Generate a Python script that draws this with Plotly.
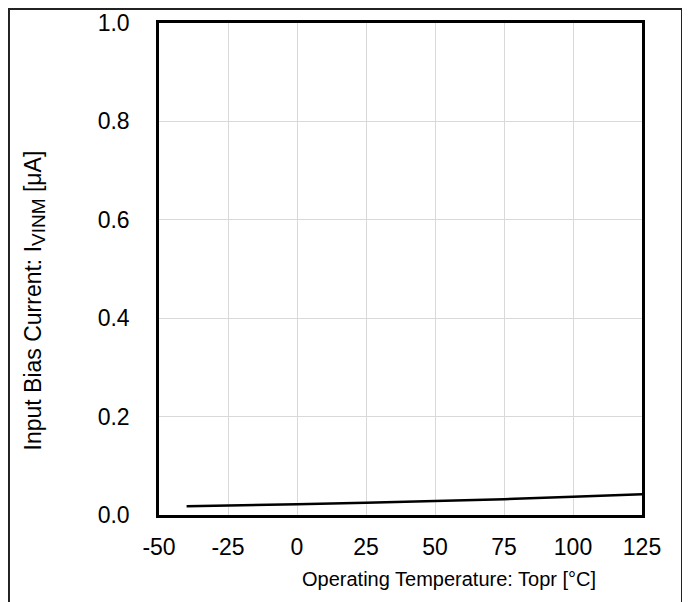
import plotly.graph_objects as go

temps = [-40, -25, 0, 25, 50, 75, 100, 125]
ibias = [0.018, 0.019, 0.022, 0.025, 0.028, 0.032, 0.037, 0.042]

x_ticks = [-50, -25, 0, 25, 50, 75, 100, 125]
x_ticklabels = ["-50", "-25", "0", "25", "50", "75", "100", "125"]
y_ticks = [0.0, 0.2, 0.4, 0.6, 0.8, 1.0]
y_ticklabels = ["0.0", "0.2", "0.4", "0.6", "0.8", "1.0"]
x_title = "Operating Temperature: Topr [°C]"
y_title = "Input Bias Current: I<sub><span style='font-size:19px'>VINM</span></sub> [μA]"

FONT = "Liberation Sans, Arial, sans-serif"

fig = go.Figure()
fig.add_trace(go.Scatter(x=temps, y=ibias, mode="lines",
                         line=dict(color="black", width=2.5), showlegend=False))

fig.update_layout(
    width=690, height=602,
    margin=dict(l=151, r=56, t=15, b=95),
    paper_bgcolor="white", plot_bgcolor="white",
    font=dict(family=FONT, size=20, color="black"),
    xaxis=dict(range=[-50, 125], tickvals=x_ticks, ticktext=x_ticklabels, showgrid=True,
               gridcolor="#d9d9d9", gridwidth=1, zeroline=False, showline=True,
               linecolor="black", linewidth=2.5, mirror=True, ticks="outside", ticklen=10,
               tickcolor="rgba(0,0,0,0)", tickfont=dict(size=23), automargin=False),
    yaxis=dict(range=[0, 1.0], tickvals=y_ticks, ticktext=y_ticklabels, showgrid=True,
               gridcolor="#d9d9d9", gridwidth=1, zeroline=False, showline=True,
               linecolor="black", linewidth=2.5, mirror=True, ticks="outside", ticklen=22,
               tickcolor="rgba(0,0,0,0)", tickfont=dict(size=23), automargin=False),
    annotations=[
        dict(text=x_title, xref="paper", yref="paper", x=0.6004, y=-0.131,
             xanchor="center", yanchor="middle", showarrow=False, font=dict(size=20)),
        dict(text=y_title, xref="paper", yref="paper", x=-0.2567, y=0.436, textangle=-90,
             xanchor="center", yanchor="middle", showarrow=False, font=dict(size=23)),
    ],
    shapes=[dict(type="rect", xref="paper", yref="paper",
                 x0=-0.3106, x1=1.0828, y0=-0.2, y1=1.0285,
                 line=dict(color="#222222", width=2), fillcolor="rgba(0,0,0,0)", layer="below")],
)

fig.write_html("out.html")
